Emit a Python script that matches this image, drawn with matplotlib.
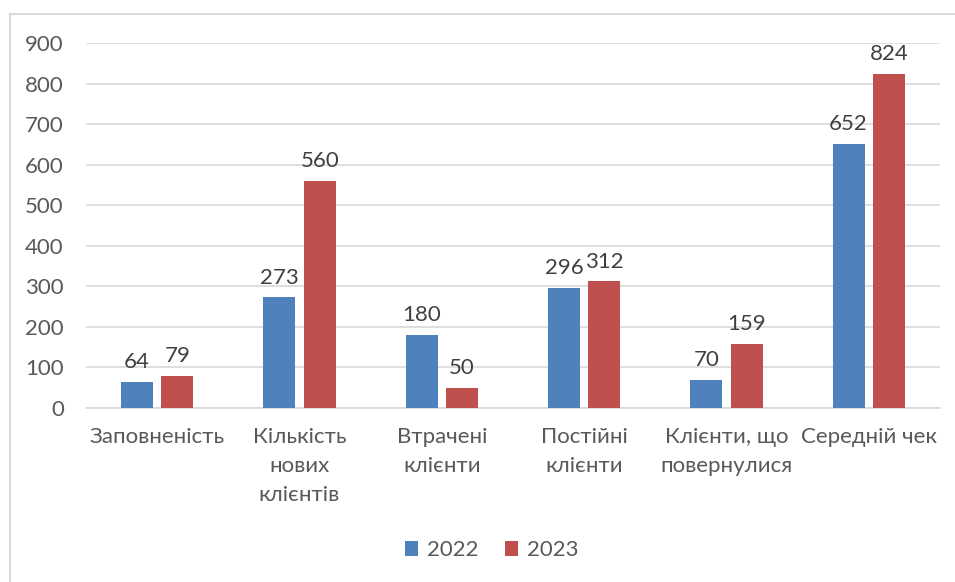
import matplotlib
matplotlib.use("Agg")
import matplotlib.pyplot as plt
import numpy as np
from matplotlib.patches import Rectangle

plt.rcParams.update({"font.family": ["Lato", "DejaVu Sans"], "font.size": 16})

categories = ["Заповненість", "Кількість\nнових\nклієнтів", "Втрачені\nклієнти",
              "Постійні\nклієнти", "Клієнти, що\nповернулися", "Середній чек"]
v2022 = [64, 273, 180, 296, 70, 652]
v2023 = [79, 560, 50, 312, 159, 824]
years = ["2022", "2023"]
colors = ["#4F81BD", "#C0504D"]
text_col = "#595959"

fig = plt.figure(figsize=(9.55, 5.82), dpi=100)
ax = fig.add_axes([86 / 955, 1 - 408 / 582, (940 - 86) / 955, (408 - 43) / 582])

# chart border (cropped on the right and bottom in the original)
fig.patches.append(Rectangle((10 / 955, -0.05), 1.2, 1 - 14 / 582 + 0.05,
                             transform=fig.transFigure, fill=False,
                             edgecolor="#D9D9D9", linewidth=1.5))

x = np.arange(len(categories))
w = 0.225
off = 0.1425
for vals, dx, c, lab in [(v2022, -off, colors[0], years[0]), (v2023, off, colors[1], years[1])]:
    bars = ax.bar(x + dx, vals, width=w, color=c, label=lab, zorder=3)
    ax.bar_label(bars, padding=7, color="#404040", fontsize=16)

ax.set_xlim(-0.5, len(categories) - 0.5)
ax.set_ylim(0, 900)
ax.set_yticks(range(0, 901, 100))
ax.yaxis.grid(True, color="#D9D9D9", linewidth=1.2, zorder=0)
for s in ["top", "right", "left"]:
    ax.spines[s].set_visible(False)
ax.spines["bottom"].set_color("#D9D9D9")
ax.spines["bottom"].set_linewidth(1.2)
ax.tick_params(length=0, colors=text_col, labelsize=16)
ax.tick_params(axis="y", pad=16)
ax.tick_params(axis="x", pad=14)
ax.set_xticks(x)
ax.set_xticklabels(categories, linespacing=1.55)

ax.legend(loc="center", bbox_to_anchor=(0.475, -0.39), ncol=2, frameon=False,
          handlelength=0.6, handleheight=0.6, handletextpad=0.4, columnspacing=1.2,
          labelcolor=text_col, fontsize=16)

fig.savefig("out.png", dpi=100)
